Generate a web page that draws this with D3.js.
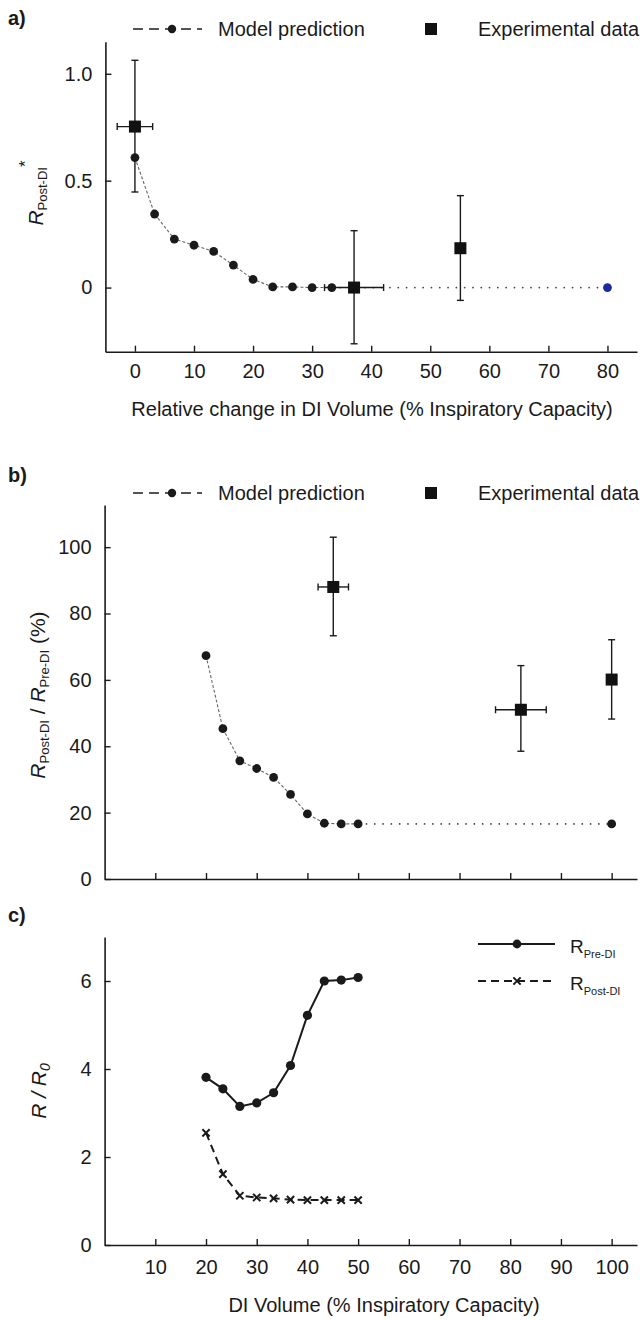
<!DOCTYPE html>
<html>
<head>
<meta charset="utf-8">
<script src="https://cdn.jsdelivr.net/npm/d3@7/dist/d3.min.js"></script>
<style>
  body { margin: 0; background: #fff; }
  svg { font-family: "Liberation Sans", Arial, sans-serif; }
</style>
</head>
<body>
<div id="chart"></div>
<script>
// ---- data ----
// panel a
const aModelX = [0, 3.33, 6.67, 10, 13.33, 16.67, 20, 23.33, 26.67, 30, 33.33];
const aModelY = [0.608, 0.344, 0.227, 0.198, 0.169, 0.105, 0.038, 0.003, 0.003, 0, 0];
const aTailX = [33.33, 80];
const aTailY = [0, 0];
const aExpX = [0, 37.1, 55.1];
const aExpY = [0.753, 0, 0.184];
const aExpHi = [1.063, 0.266, 0.43];
const aExpLo = [0.447, -0.263, -0.06];
const aExpXErr = [3, 5, 0];
const aXTicks = [0, 10, 20, 30, 40, 50, 60, 70, 80];
const aYTicks = [0, 0.5, 1.0];

// panel b
const bModelX = [20, 23.33, 26.67, 30, 33.33, 36.67, 40, 43.33, 46.67, 50];
const bModelY = [67.3, 45.3, 35.6, 33.3, 30.6, 25.5, 19.6, 16.8, 16.6, 16.6];
const bTailX = [50, 100];
const bTailY = [16.6, 16.6];
const bExpX = [45.1, 82.1, 100];
const bExpY = [88, 51, 60.1];
const bExpHi = [103, 64.3, 72.1];
const bExpLo = [73.3, 38.5, 48.2];
const bExpXErr = [3, 5, 0];
const bYTicks = [0, 20, 40, 60, 80, 100];

// panel c
const cX = [20, 23.33, 26.67, 30, 33.33, 36.67, 40, 43.33, 46.67, 50];
const cPre = [3.81, 3.55, 3.15, 3.23, 3.46, 4.08, 5.22, 6.0, 6.02, 6.08];
const cPost = [2.55, 1.61, 1.12, 1.08, 1.06, 1.03, 1.02, 1.02, 1.02, 1.02];
const cYTicks = [0, 2, 4, 6];
const bcXTicks = [10, 20, 30, 40, 50, 60, 70, 80, 90, 100];

const ink = "#1a1a1a";
const FS = 20;

var svg = d3
  .select("#chart")
  .append("svg")
  .attr("width", 640)
  .attr("height", 1320);

// ---- helpers ----
function drawAxes(x, y, xTicks, yTicks, xFmt, yFmt, xPad) {
  var xAxis = d3.axisBottom(x).tickValues(xTicks).tickSizeInner(-6)
    .tickSizeOuter(0).tickPadding(xPad).tickFormat(xFmt);
  var yAxis = d3.axisLeft(y).tickValues(yTicks).tickSizeInner(-6)
    .tickSizeOuter(0).tickPadding(13).tickFormat(yFmt);

  var gx = svg.append("g")
    .attr("transform", "translate(0," + y.range()[0] + ")")
    .call(xAxis);
  var gy = svg.append("g")
    .attr("transform", "translate(" + x.range()[0] + ",0)")
    .call(yAxis);

  [gx, gy].forEach(function (g) {
    g.select(".domain").attr("stroke", ink).attr("stroke-width", 1.6);
    g.selectAll(".tick line").attr("stroke", ink).attr("stroke-width", 1.4);
    g.selectAll(".tick text").attr("fill", ink)
      .style("font-size", FS + "px")
      .style("font-family", "'Liberation Sans', Arial, sans-serif");
  });
}

function drawExp(x, y, xs, ys, hi, lo, xerr) {
  var g = svg.append("g").attr("stroke", ink).attr("stroke-width", 1.4);
  var cap = 3.5;
  xs.forEach(function (d, i) {
    g.append("line")
      .attr("x1", x(d)).attr("x2", x(d))
      .attr("y1", y(lo[i])).attr("y2", y(hi[i]));
    [lo[i], hi[i]].forEach(function (v) {
      g.append("line")
        .attr("x1", x(d) - cap).attr("x2", x(d) + cap)
        .attr("y1", y(v)).attr("y2", y(v));
    });
    if (xerr[i] > 0) {
      g.append("line")
        .attr("x1", x(d - xerr[i])).attr("x2", x(d + xerr[i]))
        .attr("y1", y(ys[i])).attr("y2", y(ys[i]));
      [d - xerr[i], d + xerr[i]].forEach(function (v) {
        g.append("line")
          .attr("x1", x(v)).attr("x2", x(v))
          .attr("y1", y(ys[i]) - cap).attr("y2", y(ys[i]) + cap);
      });
    }
    svg.append("rect")
      .attr("x", x(d) - 6).attr("y", y(ys[i]) - 6)
      .attr("width", 12).attr("height", 12)
      .attr("fill", "#111");
  });
}

function drawModel(x, y, xs, ys, tx, ty, lastColor) {
  var line = d3.line().x(function (d) { return x(d[0]); }).y(function (d) { return y(d[1]); });
  svg.append("path")
    .datum(d3.zip(xs, ys))
    .attr("d", line)
    .attr("fill", "none")
    .attr("stroke", "#666")
    .attr("stroke-width", 1.1)
    .attr("stroke-dasharray", "3,2");
  svg.append("path")
    .datum(d3.zip(tx, ty))
    .attr("d", line)
    .attr("fill", "none")
    .attr("stroke", "#444")
    .attr("stroke-width", 1.7)
    .attr("stroke-linecap", "round")
    .attr("stroke-dasharray", "0.1,8.2");
  svg.append("g")
    .selectAll("circle")
    .data(d3.zip(xs, ys).concat([[tx[1], ty[1]]]))
    .enter()
    .append("circle")
    .attr("cx", function (d) { return x(d[0]); })
    .attr("cy", function (d) { return y(d[1]); })
    .attr("r", 4.4)
    .attr("fill", function (d, i) { return i === xs.length && lastColor ? lastColor : ink; });
}

function drawLegend(yPos) {
  svg.append("line")
    .attr("x1", 133).attr("x2", 202).attr("y1", yPos).attr("y2", yPos)
    .attr("stroke", "#555").attr("stroke-width", 2.2)
    .attr("stroke-dasharray", "10,6");
  svg.append("circle").attr("cx", 172).attr("cy", yPos).attr("r", 4.2).attr("fill", ink);
  svg.append("text")
    .attr("x", 218).attr("y", yPos + 7)
    .style("font-size", FS + "px").attr("fill", ink)
    .text("Model prediction");
  svg.append("rect")
    .attr("x", 425).attr("y", yPos - 6).attr("width", 12).attr("height", 12)
    .attr("fill", "#111");
  svg.append("text")
    .attr("x", 478).attr("y", yPos + 7)
    .style("font-size", FS + "px").attr("fill", ink)
    .text("Experimental data");
}

function panelLabel(txt, yPos) {
  svg.append("text")
    .attr("x", 8).attr("y", yPos)
    .style("font-size", "20px").style("font-weight", "bold")
    .attr("fill", ink)
    .text(txt);
}

// ================= panel a =================
var xa = d3.scaleLinear().domain([-5, 85]).range([105.4, 637]);
var ya = d3.scaleLinear().domain([-0.3, 1.15]).range([351.7, 41.7]);

drawAxes(xa, ya, aXTicks, aYTicks, d3.format("d"),
  function (d) { return d === 0 ? "0" : d3.format(".1f")(d); }, 12);
drawModel(xa, ya, aModelX, aModelY, aTailX, aTailY, "#1c2a9c");
drawExp(xa, ya, aExpX, aExpY, aExpHi, aExpLo, aExpXErr);
drawLegend(29);
panelLabel("a)", 25);

svg.append("text")
  .attr("x", 372).attr("y", 416)
  .attr("text-anchor", "middle")
  .style("font-size", FS + "px").attr("fill", ink)
  .text("Relative change in DI Volume (% Inspiratory Capacity)");

var yla = svg.append("text")
  .attr("transform", "translate(43,193) rotate(-90)")
  .attr("text-anchor", "middle")
  .attr("fill", ink)
  .style("font-size", "21px");
yla.append("tspan").style("font-style", "italic").text("R");
yla.append("tspan").attr("dy", 4).style("font-size", "13px").text("Post-DI");
yla.append("tspan").attr("dy", -16).style("font-size", "17px").text("*");

// ================= panel b =================
var xb = d3.scaleLinear().domain([0, 105]).range([104.6, 637]);
var yb = d3.scaleLinear().domain([0, 112.7]).range([879, 505]);

drawAxes(xb, yb, bcXTicks, bYTicks, function () { return ""; }, d3.format("d"), 12);
drawModel(xb, yb, bModelX, bModelY, bTailX, bTailY, null);
drawExp(xb, yb, bExpX, bExpY, bExpHi, bExpLo, bExpXErr);
drawLegend(493);
panelLabel("b)", 482);

var ylb = svg.append("text")
  .attr("transform", "translate(45,695) rotate(-90)")
  .attr("text-anchor", "middle")
  .attr("fill", ink)
  .style("font-size", "21px");
ylb.append("tspan").style("font-style", "italic").text("R");
ylb.append("tspan").attr("dy", 4).style("font-size", "13px").text("Post-DI");
ylb.append("tspan").attr("dy", -4).text(" / ");
ylb.append("tspan").style("font-style", "italic").text("R");
ylb.append("tspan").attr("dy", 4).style("font-size", "13px").text("Pre-DI");
ylb.append("tspan").attr("dy", -4).text(" (%)");

// ================= panel c =================
var xc = d3.scaleLinear().domain([0, 105]).range([104.6, 637]);
var yc = d3.scaleLinear().domain([0, 7]).range([1245, 937]);

drawAxes(xc, yc, bcXTicks, cYTicks, d3.format("d"), d3.format("d"), 15);

var lineC = d3.line().x(function (d) { return xc(d[0]); }).y(function (d) { return yc(d[1]); });

svg.append("path")
  .datum(d3.zip(cX, cPre))
  .attr("d", lineC)
  .attr("fill", "none").attr("stroke", ink).attr("stroke-width", 2);
svg.append("g")
  .selectAll("circle")
  .data(d3.zip(cX, cPre))
  .enter()
  .append("circle")
  .attr("cx", function (d) { return xc(d[0]); })
  .attr("cy", function (d) { return yc(d[1]); })
  .attr("r", 4.6)
  .attr("fill", ink);

svg.append("path")
  .datum(d3.zip(cX, cPost))
  .attr("d", lineC)
  .attr("fill", "none").attr("stroke", ink).attr("stroke-width", 2)
  .attr("stroke-dasharray", "8,5");
var cross = d3.symbol().type(d3.symbolX).size(36);
svg.append("g")
  .selectAll("path")
  .data(d3.zip(cX, cPost))
  .enter()
  .append("path")
  .attr("d", cross)
  .attr("transform", function (d) { return "translate(" + xc(d[0]) + "," + yc(d[1]) + ")"; })
  .attr("fill", "none").attr("stroke", ink).attr("stroke-width", 2);

panelLabel("c)", 922);

svg.append("text")
  .attr("x", 384).attr("y", 1312)
  .attr("text-anchor", "middle")
  .style("font-size", FS + "px").attr("fill", ink)
  .text("DI Volume (% Inspiratory Capacity)");

var ylc = svg.append("text")
  .attr("transform", "translate(46,1091) rotate(-90)")
  .attr("text-anchor", "middle")
  .attr("fill", ink)
  .style("font-size", "21px");
ylc.append("tspan").style("font-style", "italic").text("R / R");
ylc.append("tspan").attr("dy", 4).style("font-size", "14px").style("font-style", "italic").text("0");

// legend c
svg.append("line")
  .attr("x1", 478).attr("x2", 555).attr("y1", 944).attr("y2", 944)
  .attr("stroke", ink).attr("stroke-width", 2);
svg.append("circle").attr("cx", 517).attr("cy", 944).attr("r", 4.4).attr("fill", ink);
svg.append("line")
  .attr("x1", 478).attr("x2", 555).attr("y1", 981).attr("y2", 981)
  .attr("stroke", ink).attr("stroke-width", 2)
  .attr("stroke-dasharray", "8,5");
svg.append("path")
  .attr("d", cross)
  .attr("transform", "translate(517,981)")
  .attr("fill", "none").attr("stroke", ink).attr("stroke-width", 2);

var lc1 = svg.append("text").attr("x", 570).attr("y", 953).attr("fill", ink)
  .style("font-size", "19px");
lc1.append("tspan").text("R");
lc1.append("tspan").attr("dy", 5).style("font-size", "11px").text("Pre-DI");
var lc2 = svg.append("text").attr("x", 570).attr("y", 990).attr("fill", ink)
  .style("font-size", "19px");
lc2.append("tspan").text("R");
lc2.append("tspan").attr("dy", 5).style("font-size", "11px").text("Post-DI");
</script>
</body>
</html>
